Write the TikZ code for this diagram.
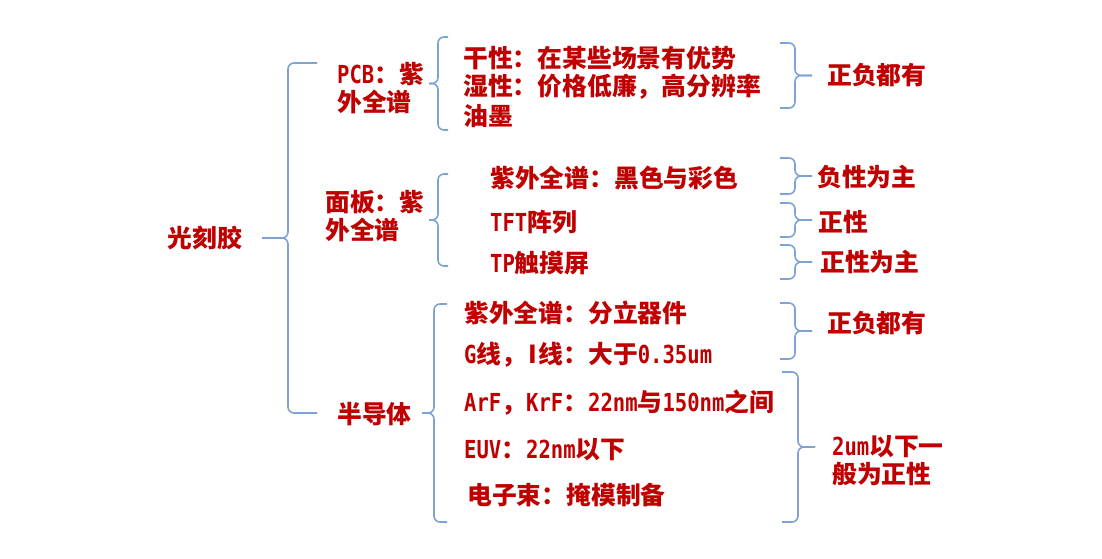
\documentclass[tikz,border=0pt]{standalone}
\usepackage{fontspec}
\newfontfamily\cjk{Noto Sans CJK SC}
\newfontfamily\lat{DejaVu Sans Mono}[FakeStretch=0.83]
\usetikzlibrary{calc}
\definecolor{inkred}{RGB}{192,0,0}
\definecolor{bracecol}{RGB}{125,162,212}
% curly brace: (ends x : spine x : tip x : top y : bottom y)
\def\curly(#1:#2:#3:#4:#5){\draw[brc] (#1,#4) -- (#2,#4) -- (#2,{(#4+#5)/2}) -- (#3,{(#4+#5)/2}); \draw[brc] (#3,{(#4+#5)/2}) -- (#2,{(#4+#5)/2}) -- (#2,#5) -- (#1,#5);}

\begin{document}
\begin{tikzpicture}[x=1pt, y=-1pt,
		lbl/.style={text=inkred, font=\cjk\bfseries\fontsize{24.8}{28}\selectfont, inner sep=0pt, align=left, anchor=west},
		brc/.style={draw=bracecol, line width=1.6pt, rounded corners=6pt}]
			%%%%% START %%%%%
			
			\useasboundingbox (0,0) rectangle (1102,559);
			
			\node[lbl, anchor=center] (root) at (205,238) {光刻胶};
			\curly(317:288:262:63:413);
			
			\node[lbl] (pcb) at (337,88) {{\lat PCB}：紫\\外全谱};
			\node[lbl] (panel) at (325,216) {面板：紫\\外全谱};
			\node[lbl] (semi) at (337,414) {半导体};
			
			% PCB
			\curly(448:438:429:37:130);
			\node[lbl] (dry) at (463,58) {干性：在某些场景有优势};
			\node[lbl] (wet) at (463,87) {湿性：价格低廉，高分辨率};
			\node[lbl] (ink) at (463,116) {油墨};
			\curly(780:795:812:43:108);
			\node[lbl] (pcbres) at (827,75) {正负都有};
			
			% panel
			\curly(448:438:429:174:266);
			\node[lbl] (color) at (490,178) {紫外全谱：黑色与彩色};
			\node[lbl] (tft) at (490,222) {{\lat TFT}阵列};
			\node[lbl] (tp) at (490,263) {{\lat TP}触摸屏};
			\curly(780:795:812:158:194);
			\curly(780:795:812:203:237);
			\curly(780:795:812:245:279);
			\node[lbl] (colorres) at (817,177) {负性为主};
			\node[lbl] (tftres) at (818,222) {正性};
			\node[lbl] (tpres) at (820,262) {正性为主};
			
			% semiconductor
			\curly(447:434:422:304:522);
			\node[lbl] (disc) at (464,313) {紫外全谱：分立器件};
			\node[lbl] (gline) at (464,355) {{\lat G}线，\makebox[12.4pt]{I}线：大于{\lat 0.35um}};
			\node[lbl] (arf) at (464,403) {{\lat ArF}，{\lat KrF}：{\lat 22nm}与{\lat 150nm}之间};
			\node[lbl] (euv) at (464,450) {{\lat EUV}：{\lat 22nm}以下};
			\node[lbl] (ebeam) at (467,495) {电子束：掩模制备};
			\curly(780:795:812:303:359);
			\node[lbl] (discres) at (827,323) {正负都有};
			\curly(782:798:815:372:522);
			\node[lbl] (arfres) at (832,461) {{\lat 2um}以下一\\般为正性};
			
			%%%%% END %%%%%
\end{tikzpicture}
\end{document}
